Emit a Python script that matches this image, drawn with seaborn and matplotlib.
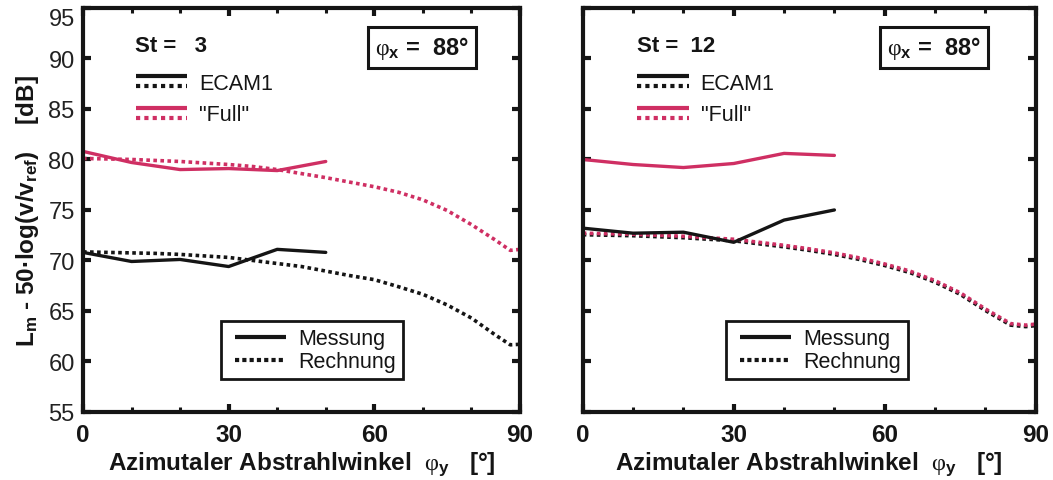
import numpy as np
import pandas as pd
import seaborn as sns
import matplotlib.pyplot as plt
from matplotlib.lines import Line2D
from matplotlib.legend_handler import HandlerBase

# Azimuth angles (deg)
phi_meas = [0, 10, 20, 30, 40, 50]
phi_calc = [0, 5, 10, 15, 20, 25, 30, 35, 40, 45, 50, 55, 60, 65, 70, 75, 80, 85, 88, 90]

# St = 3
st3_ecam_meas = [70.8, 69.9, 70.1, 69.4, 71.1, 70.8]
st3_full_meas = [80.8, 79.7, 79.0, 79.1, 78.9, 79.8]
st3_ecam_calc = [70.85, 70.8, 70.75, 70.7, 70.6, 70.45, 70.3, 70.0, 69.7, 69.4,
                 68.95, 68.5, 68.1, 67.4, 66.65, 65.6, 64.3, 62.6, 61.65, 61.7]
st3_full_calc = [80.1, 80.05, 80.0, 79.9, 79.8, 79.65, 79.5, 79.3, 79.0, 78.6,
                 78.2, 77.75, 77.3, 76.75, 76.0, 74.95, 73.55, 72.0, 71.0, 71.1]

# St = 12
st12_ecam_meas = [73.2, 72.7, 72.8, 71.8, 74.0, 75.0]
st12_full_meas = [80.0, 79.5, 79.2, 79.6, 80.6, 80.4]
st12_ecam_calc = [72.55, 72.5, 72.45, 72.35, 72.25, 72.1, 71.95, 71.65, 71.35, 71.0,
                  70.6, 70.1, 69.5, 68.8, 67.85, 66.65, 65.05, 63.6, 63.45, 63.55]
st12_full_calc = [72.7, 72.65, 72.6, 72.5, 72.4, 72.25, 72.1, 71.8, 71.5, 71.15,
                  70.75, 70.25, 69.65, 68.95, 68.0, 66.8, 65.2, 63.75, 63.6, 63.7]

strouhal = ["3", "12"]
phi_x_label = "88°"
x_ticks = [0, 30, 60, 90]
x_minor = [10, 20, 40, 50, 70, 80]
y_ticks = [55, 60, 65, 70, 75, 80, 85, 90, 95]

BLACK = "#151515"
PINK = "#cf2f63"
LW_SOLID = 2.4
LW_DOT = 2.6
DOT = (0, (1.0, 0.95))

sns.set_style("white")
plt.rcParams["font.family"] = ["Liberation Sans", "DejaVu Sans"]
plt.rcParams["mathtext.fontset"] = "custom"
plt.rcParams["mathtext.rm"] = "Liberation Serif"
plt.rcParams["mathtext.it"] = "Liberation Serif:italic"
plt.rcParams["mathtext.bf"] = "Liberation Sans:bold"
plt.rcParams["mathtext.sf"] = "Liberation Sans"


class LineKey:
    """Description of a legend key: one line, or a solid line over a dotted one."""

    def __init__(self, color, dotted=False, stacked=False, lead=0.0, lw=3.0,
                 dash=(1.0, 1.0)):
        self.color = color
        self.dotted = dotted
        self.stacked = stacked
        self.lead = lead
        self.lw = lw
        self.dash = dash


class LineKeyHandler(HandlerBase):
    def create_artists(self, legend, key, xdescent, ydescent,
                       width, height, fontsize, trans):
        x0 = -xdescent + key.lead * fontsize
        x1 = width - xdescent
        yc = height / 2 - ydescent
        dot_style = (0, key.dash)
        if key.stacked:
            off = 0.22 * fontsize
            solid = Line2D([x0, x1], [yc + off, yc + off], color=key.color,
                           lw=key.lw, solid_capstyle="butt", transform=trans)
            dotted = Line2D([x0, x1], [yc - off, yc - off], color=key.color,
                            lw=key.lw, linestyle=dot_style,
                            dash_capstyle="butt", transform=trans)
            return [solid, dotted]
        ls = dot_style if key.dotted else "-"
        line = Line2D([x0, x1], [yc, yc], color=key.color, lw=key.lw,
                      linestyle=ls, dash_capstyle="butt",
                      solid_capstyle="butt", transform=trans)
        return [line]


fig = plt.figure(figsize=(10.53, 4.81), dpi=100)
ax1 = fig.add_axes([0.0788, 0.1414, 0.4150, 0.840])
ax2 = fig.add_axes([0.5534, 0.1414, 0.4302, 0.840])

panels = [
    (ax1, st3_ecam_meas, st3_full_meas, st3_ecam_calc, st3_full_calc, strouhal[0]),
    (ax2, st12_ecam_meas, st12_full_meas, st12_ecam_calc, st12_full_calc, strouhal[1]),
]

for i, (ax, em, fm, ec, fc, st) in enumerate(panels):
    sns.lineplot(x=phi_calc, y=ec, ax=ax, color=BLACK, lw=LW_DOT, linestyle=DOT,
                 dash_capstyle="butt", errorbar=None)
    sns.lineplot(x=phi_calc, y=fc, ax=ax, color=PINK, lw=LW_DOT, linestyle=DOT,
                 dash_capstyle="butt", errorbar=None)
    sns.lineplot(x=phi_meas, y=em, ax=ax, color=BLACK, lw=LW_SOLID, errorbar=None)
    sns.lineplot(x=phi_meas, y=fm, ax=ax, color=PINK, lw=LW_SOLID, errorbar=None)

    ax.set_xlim(0, 90)
    ax.set_ylim(55, 95)
    ax.set_xticks(x_ticks)
    ax.set_xticks(x_minor, minor=True)
    ax.set_yticks(y_ticks)
    ax.tick_params(which="both", direction="in", top=True, right=True,
                   bottom=True, left=True, color=BLACK)
    ax.tick_params(which="major", length=6, width=3.0)
    ax.tick_params(which="minor", length=3.5, width=2.2)
    ax.tick_params(axis="x", labelsize=17.5, pad=8, labelcolor=BLACK)
    ax.tick_params(axis="y", labelsize=17, pad=6, labelcolor="#222222")
    for lab in ax.get_xticklabels():
        lab.set_fontweight("bold")
    for sp in ax.spines.values():
        sp.set_visible(True)
        sp.set_linewidth(3.0)
        sp.set_color(BLACK)

    ax.set_xlabel("Azimutaler Abstrahlwinkel  $\\mathrm{φ}_\\mathbf{y}$   [°]",
                  fontsize=17.5, fontweight="bold", labelpad=2, color=BLACK)
    if i == 0:
        ax.set_ylabel("L$_\\mathbf{m}$ - 50·log(v/v$_\\mathbf{ref}$)    [dB]",
                      fontsize=17.5, fontweight="bold", labelpad=5, color=BLACK)
        # keep the top label inside the figure
        ylabels = ax.get_yticklabels()
        ylabels[-1].set_verticalalignment("top")
    else:
        ax.set_ylabel("")
        ax.tick_params(axis="y", labelleft=False)

    # Strouhal number
    ax.text(0.119, 0.908, f"St =  {st:>2}", transform=ax.transAxes,
            fontsize=16, fontweight="bold", va="center", ha="left", color=BLACK)

    # Polar angle box
    ax.text(0.775, 0.902, f"$\\mathrm{{φ}}_\\mathbf{{x}}$ =  {phi_x_label}",
            transform=ax.transAxes, fontsize=17, fontweight="bold",
            va="center", ha="center", color=BLACK,
            bbox=dict(boxstyle="square,pad=0.3", fc="white", ec=BLACK, lw=2.2))

    # Model legend (solid = measurement, dotted = calculation)
    leg_models = ax.legend(
        handles=[LineKey(BLACK, stacked=True), LineKey(PINK, stacked=True)],
        labels=["ECAM1", "\"Full\""],
        handler_map={LineKey: LineKeyHandler()},
        loc="upper left", bbox_to_anchor=(0.106, 0.856),
        frameon=False, fontsize=15.5, handlelength=2.4, handletextpad=0.55,
        labelspacing=0.5, borderpad=0.3, borderaxespad=0.0,
    )
    for t in leg_models.get_texts():
        t.set_color(BLACK)
    ax.add_artist(leg_models)

    # Line-style legend
    leg_kind = ax.legend(
        handles=[LineKey(BLACK, lead=0.33, lw=3.0),
                 LineKey(BLACK, dotted=True, lead=0.33, lw=3.0, dash=(1.0, 0.75))],
        labels=["Messung", "Rechnung"],
        handler_map={LineKey: LineKeyHandler()},
        loc="lower left", bbox_to_anchor=(0.316, 0.081),
        fontsize=15.5, handlelength=2.7, handletextpad=0.58,
        labelspacing=0.1, borderpad=0.32, borderaxespad=0.0,
        fancybox=False, framealpha=1.0, edgecolor=BLACK,
    )
    leg_kind.get_frame().set_linewidth(2.0)
    for t in leg_kind.get_texts():
        t.set_color(BLACK)

fig.savefig("out.png", dpi=100, facecolor="white")
